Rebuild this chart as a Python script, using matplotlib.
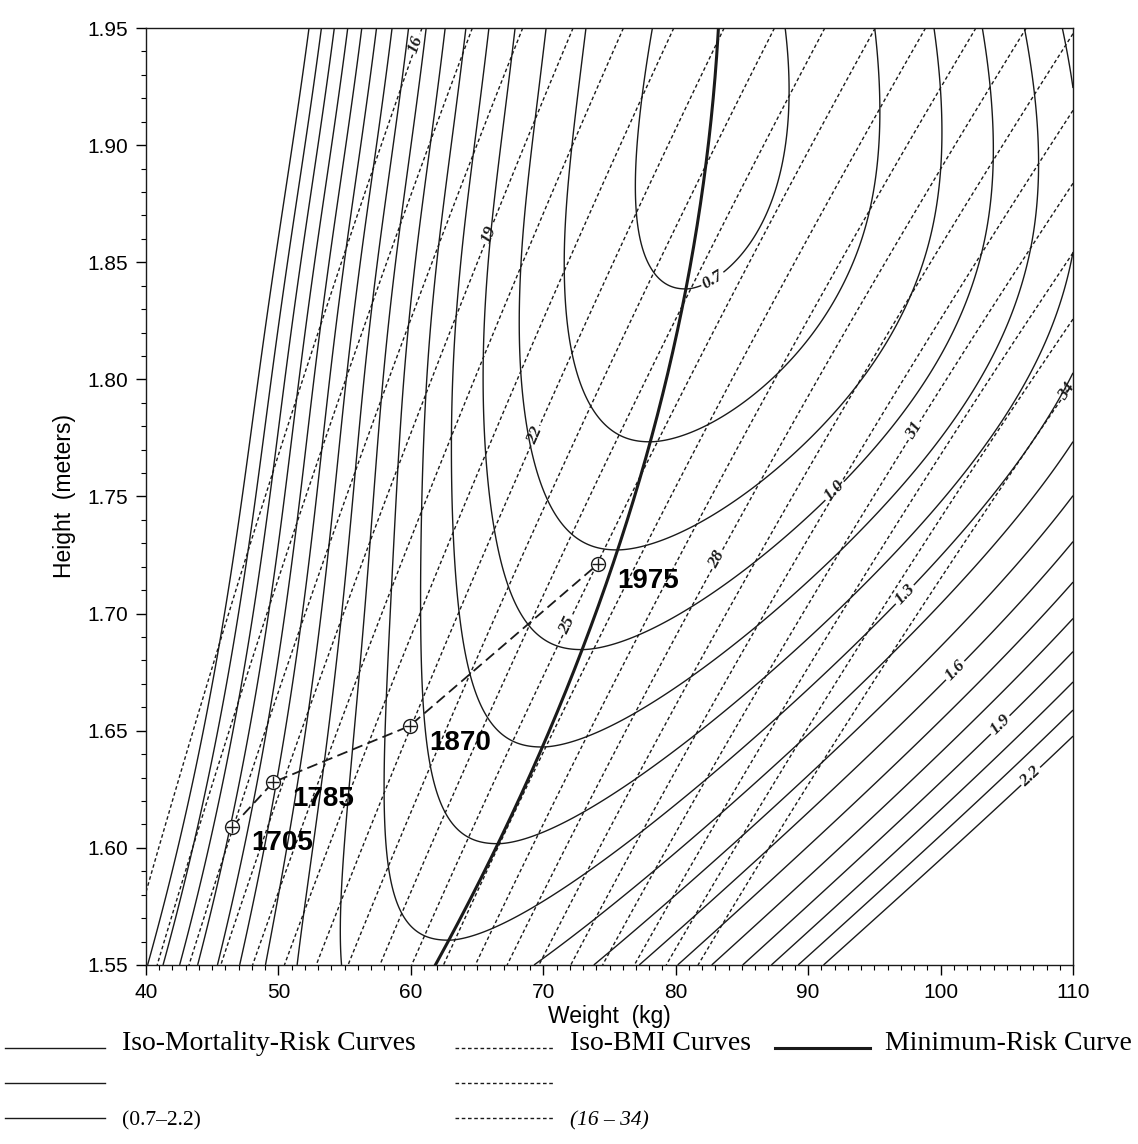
import numpy as np
import matplotlib.pyplot as plt
from matplotlib.lines import Line2D
from matplotlib.ticker import MultipleLocator, FormatStrFormatter

# historical mean height / weight
years = ["1705", "1785", "1870", "1975"]
year_weight = [46.5, 49.6, 59.9, 74.1]
year_height = [1.609, 1.628, 1.652, 1.721]

# contour levels
risk_levels = [0.7, 0.8, 0.9, 1.0, 1.1, 1.2, 1.3, 1.4, 1.5, 1.6, 1.7, 1.8, 1.9, 2.0, 2.1, 2.2]
risk_labelled = [0.7, 1.0, 1.3, 1.6, 1.9, 2.2]
risk_label_w = [82.8, 92.0, 97.3, 101.1, 104.5, 106.8]      # weight where each label sits
bmi_levels = [16, 17, 18, 19, 20, 21, 22, 23, 24, 25, 26, 27, 28, 29, 30, 31, 32, 33, 34]
bmi_labelled = [16, 19, 22, 25, 28, 31, 34]
bmi_label_h = [1.943, 1.862, 1.776, 1.695, 1.723, 1.778, 1.795]  # height where each label sits

# points on the minimum-risk curve (height m, weight kg)
minrisk_h = [1.55, 1.62, 1.676, 1.719, 1.767, 1.839, 1.95]
minrisk_w = [61.8, 68.5, 72.0, 74.8, 77.9, 81.1, 83.1]

# risk surface parameters, tuned to the drawn iso-risk curves
FLOOR_MIN = 0.655      # lowest risk along the minimum-risk curve
FLOOR_SLOPE = 2.43     # risk drop per metre of height
FLOOR_KNEE = 1.826     # height where the drop levels off
FLOOR_SOFT = 0.035
FLOOR_RISE, FLOOR_RISE_H = 1.5, 1.85
LEFT_D0, LEFT_D1, LEFT_D2, LEFT_P = 23.1, 21.36, -38.4, 2.2   # underweight side
RIGHT_K0, RIGHT_K1, RIGHT_K2, RIGHT_P = 0.002, -0.00676, 0.01378, 1.8

minrisk_fit = np.polyfit(minrisk_h, minrisk_w, 2)


def min_risk_weight(h):
    return np.polyval(minrisk_fit, h)


def risk(w, h):
    t = h - 1.55
    floor = (FLOOR_MIN + FLOOR_SLOPE * FLOOR_SOFT * np.log1p(np.exp((FLOOR_KNEE - h) / FLOOR_SOFT))
             + FLOOR_RISE * np.clip(h - FLOOR_RISE_H, 0, None) ** 2)
    d = np.abs(w - min_risk_weight(h))
    left = (d / (LEFT_D0 + LEFT_D1 * t + LEFT_D2 * t ** 2)) ** LEFT_P
    right = (RIGHT_K0 + RIGHT_K1 * t + RIGHT_K2 * t ** 2) * d ** RIGHT_P
    return floor + np.where(w < min_risk_weight(h), left, right)


ww, hh = np.meshgrid(np.linspace(40, 110, 701), np.linspace(1.55, 1.95, 401))
rr = risk(ww, hh)
bb = ww / hh ** 2

fig = plt.figure(figsize=(11.38, 11.44), dpi=100)
ax = fig.add_axes([0.1283, 0.1565, 0.8146, 0.819])
ink = "#1a1a1a"
dash = (0, (2.6, 1.9))
label_font = dict(family="Liberation Serif", weight="bold", style="italic", size=12.5)

# unlabelled and labelled levels drawn separately so labels can cut their own line
ax.contour(ww, hh, rr, levels=[v for v in risk_levels if v not in risk_labelled],
           colors=ink, linewidths=1.0, linestyles="solid")
cs_risk = ax.contour(ww, hh, rr, levels=risk_labelled, colors=ink, linewidths=1.0,
                     linestyles="solid")
ax.contour(ww, hh, bb, levels=[v for v in bmi_levels if v not in bmi_labelled],
           colors=ink, linewidths=1.0, linestyles=[dash])
cs_bmi = ax.contour(ww, hh, bb, levels=bmi_labelled, colors=ink, linewidths=1.0,
                    linestyles=[dash])

hs = np.linspace(1.55, 1.95, 400)
ax.plot(min_risk_weight(hs), hs, color=ink, lw=2.2)

# label spots: on the overweight branch of each risk curve, on each BMI line
risk_spots = []
for lev, w in zip(risk_labelled, risk_label_w):
    r_along = risk(np.full_like(hs, w), hs)          # falls as height grows
    risk_spots.append((w, np.interp(lev, r_along[::-1], hs[::-1])))
bmi_spots = [(b * h ** 2, h) for b, h in zip(bmi_labelled, bmi_label_h)]

risk_txt = ax.clabel(cs_risk, fmt="%.1f", inline=True, inline_spacing=2, manual=risk_spots)
bmi_txt = ax.clabel(cs_bmi, fmt="%d", inline=True, inline_spacing=2, manual=bmi_spots)
for t in list(risk_txt) + list(bmi_txt):
    t.set(**label_font)

# secular trend
ax.plot(year_weight, year_height, color=ink, lw=1.3, ls=(0, (6, 3)))
ax.plot(year_weight, year_height, "o", ms=10, mfc="white", mec=ink, mew=1.0)
ax.plot(year_weight, year_height, "+", ms=8, color=ink, mew=1.0)
for yr, w, h in zip(years, year_weight, year_height):
    ax.annotate(yr, (w, h), xytext=(14, -12), textcoords="offset points", ha="left",
                va="center", fontsize=20, fontweight="bold", family="Liberation Sans")

ax.set_xlim(40, 110)
ax.set_ylim(1.55, 1.95)
ax.xaxis.set_major_locator(MultipleLocator(10))
ax.xaxis.set_minor_locator(MultipleLocator(1))
ax.yaxis.set_major_locator(MultipleLocator(0.05))
ax.yaxis.set_minor_locator(MultipleLocator(0.01))
ax.yaxis.set_major_formatter(FormatStrFormatter("%.2f"))
ax.tick_params(which="major", direction="out", length=7, width=1.0, labelsize=15, pad=6)
ax.tick_params(which="minor", direction="out", length=3.5, width=0.8)
for lab in ax.get_xticklabels() + ax.get_yticklabels():
    lab.set_fontfamily("Liberation Sans")
for s in ax.spines.values():
    s.set_linewidth(1.0)
    s.set_color(ink)

ax.set_xlabel("Weight  (kg)", fontsize=16.5, family="Liberation Sans", labelpad=2)
ax.set_ylabel("Height  (meters)", fontsize=16.5, family="Liberation Sans", labelpad=8)

# legend below the plot, in figure pixels
W_PX, H_PX = 1138, 1144


def fig_line(x0, x1, y, **kw):
    fig.add_artist(Line2D([x0 / W_PX, x1 / W_PX], [1 - y / H_PX, 1 - y / H_PX],
                          transform=fig.transFigure, color=ink, **kw))


def fig_text(x, y, s, size=20, **kw):
    fig.text(x / W_PX, 1 - y / H_PX, s, va="center", ha="left", fontsize=size,
             family="Liberation Serif", **kw)


for y in (1048, 1083, 1118):
    fig_line(5, 105, y, lw=1.0)
    fig_line(455, 555, y, lw=1.0, ls=dash)
fig_line(775, 870, 1048, lw=2.2)
fig_text(122, 1043, "Iso-Mortality-Risk Curves")
fig_text(122, 1121, "(0.7\u20132.2)", size=15.5)
fig_text(570, 1043, "Iso-BMI Curves")
fig_text(570, 1121, "(16 \u2013 34)", size=15.5, style="italic")
fig_text(885, 1043, "Minimum-Risk Curve")

fig.savefig("out.png", dpi=100)
